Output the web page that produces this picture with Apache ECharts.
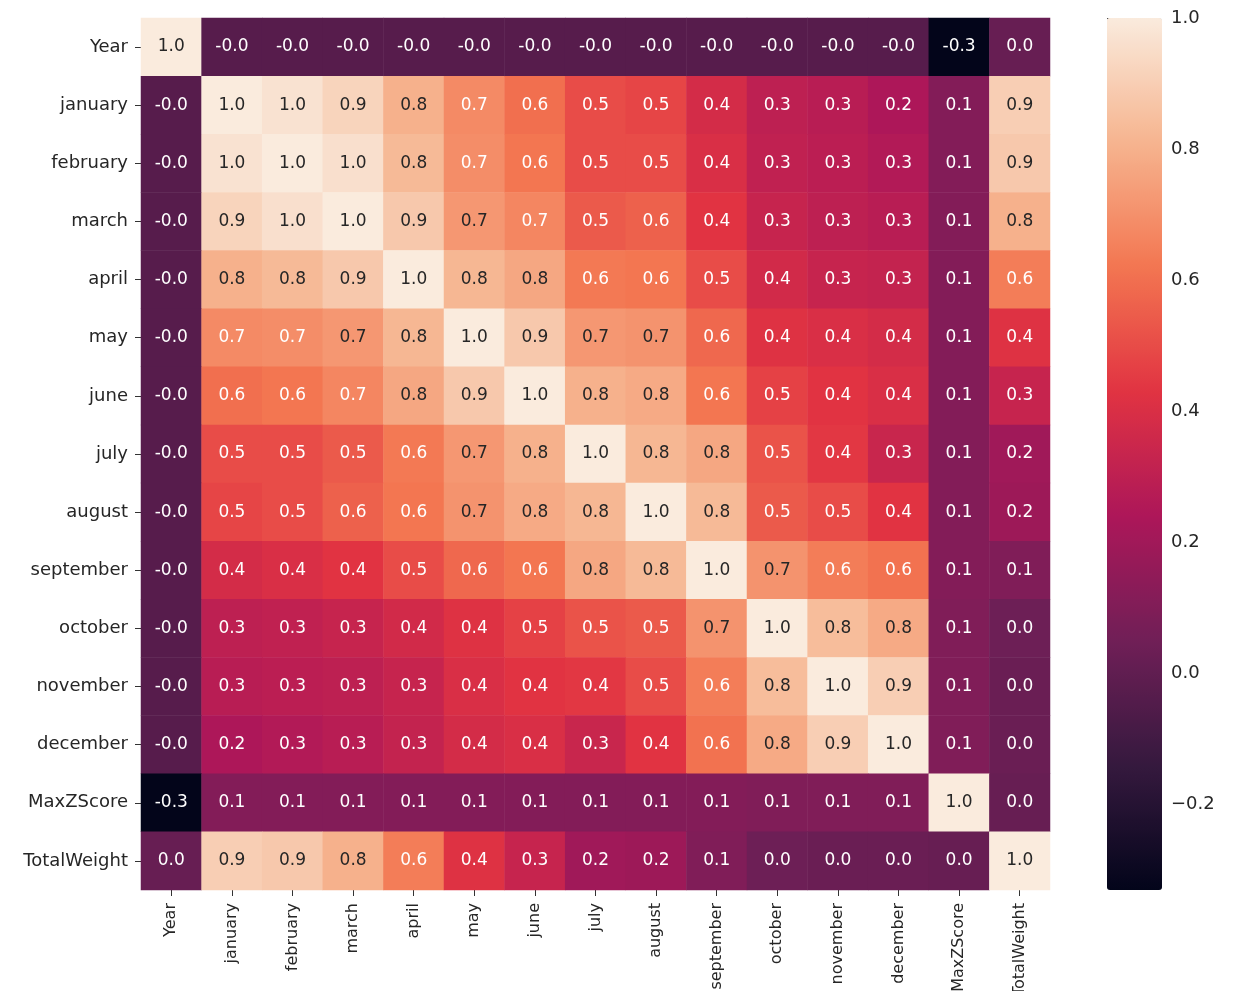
<!DOCTYPE html>
<html>
<head>
<meta charset="utf-8">
<script src="https://cdn.jsdelivr.net/npm/echarts@6/dist/echarts.min.js"></script>
<style>
html,body{margin:0;padding:0;background:#fff;}
#chart{width:1233px;height:991px;}
</style>
</head>
<body>
<div id="chart"></div>
<script>
const labels = ['Year','january','february','march','april','may','june','july','august','september','october','november','december','MaxZScore','TotalWeight'];

const yearRow        = [ 1.00,-0.03,-0.03,-0.03,-0.03,-0.03,-0.03,-0.03,-0.03,-0.03,-0.03,-0.03,-0.03,-0.33, 0.02];
const januaryRow     = [-0.03, 1.00, 0.97, 0.92, 0.80, 0.68, 0.60, 0.50, 0.48, 0.38, 0.30, 0.28, 0.24, 0.11, 0.90];
const februaryRow    = [-0.03, 0.97, 1.00, 0.96, 0.83, 0.69, 0.62, 0.50, 0.50, 0.40, 0.31, 0.29, 0.26, 0.11, 0.88];
const marchRow       = [-0.03, 0.92, 0.96, 1.00, 0.88, 0.72, 0.67, 0.54, 0.56, 0.43, 0.33, 0.30, 0.28, 0.11, 0.80];
const aprilRow       = [-0.03, 0.80, 0.83, 0.88, 1.00, 0.82, 0.77, 0.63, 0.62, 0.50, 0.37, 0.33, 0.32, 0.11, 0.64];
const mayRow         = [-0.03, 0.68, 0.69, 0.72, 0.82, 1.00, 0.88, 0.72, 0.71, 0.58, 0.42, 0.40, 0.38, 0.11, 0.42];
const juneRow        = [-0.03, 0.60, 0.62, 0.67, 0.77, 0.88, 1.00, 0.80, 0.78, 0.62, 0.47, 0.43, 0.40, 0.11, 0.33];
const julyRow        = [-0.03, 0.50, 0.50, 0.54, 0.63, 0.72, 0.80, 1.00, 0.82, 0.77, 0.52, 0.44, 0.34, 0.11, 0.20];
const augustRow      = [-0.03, 0.48, 0.50, 0.56, 0.62, 0.71, 0.78, 0.82, 1.00, 0.83, 0.54, 0.50, 0.43, 0.11, 0.19];
const septemberRow   = [-0.03, 0.38, 0.40, 0.43, 0.50, 0.58, 0.62, 0.77, 0.83, 1.00, 0.71, 0.64, 0.61, 0.11, 0.10];
const octoberRow     = [-0.03, 0.30, 0.31, 0.33, 0.37, 0.42, 0.47, 0.52, 0.54, 0.71, 1.00, 0.84, 0.78, 0.10, 0.04];
const novemberRow    = [-0.03, 0.28, 0.29, 0.30, 0.33, 0.40, 0.43, 0.44, 0.50, 0.64, 0.84, 1.00, 0.90, 0.10, 0.03];
const decemberRow    = [-0.03, 0.24, 0.26, 0.28, 0.32, 0.38, 0.40, 0.34, 0.43, 0.61, 0.78, 0.90, 1.00, 0.10, 0.03];
const maxZScoreRow   = [-0.33, 0.11, 0.11, 0.11, 0.11, 0.11, 0.11, 0.11, 0.11, 0.11, 0.10, 0.10, 0.10, 1.00, 0.02];
const totalWeightRow = [ 0.02, 0.90, 0.88, 0.80, 0.64, 0.42, 0.33, 0.20, 0.19, 0.10, 0.04, 0.03, 0.03, 0.02, 1.00];

const colorbarTicks = [-0.2, 0.0, 0.2, 0.4, 0.6, 0.8, 1.0];

const matrix = [yearRow, januaryRow, februaryRow, marchRow, aprilRow, mayRow, juneRow, julyRow,
  augustRow, septemberRow, octoberRow, novemberRow, decemberRow, maxZScoreRow, totalWeightRow];

const rocket = ['#03051A','#35193E','#701F57','#AD1759','#E13342','#F37651','#F6B48F','#FAEBDD'];

let vmin = Infinity, vmax = -Infinity;
const data = [];
matrix.forEach((row, i) => {
  row.forEach((v, j) => {
    vmin = Math.min(vmin, v); vmax = Math.max(vmax, v);
    data.push({ value: [j, i, v], label: { color: v >= 0.70 ? '#262626' : '#ffffff' } });
  });
});

const FONT = 'DejaVu Sans';
const GL = 141, GT = 18, GW = 909, GH = 872;
const CBL = 1107, CBW = 55;
const LABEL_SIZE = 18, XLABEL_SIZE = 16, ANNOT_SIZE = 17;

const chart = echarts.init(document.getElementById('chart'));
chart.setOption({
  animation: false,
  backgroundColor: '#ffffff',
  textStyle: { fontFamily: FONT },
  grid: [
    { left: GL, top: GT, width: GW, height: GH, containLabel: false, outerBoundsMode: 'none' },
    { left: CBL, top: GT, width: CBW, height: GH, containLabel: false, outerBoundsMode: 'none' }
  ],
  xAxis: [
    {
      type: 'category', data: labels, gridIndex: 0, position: 'bottom',
      axisLine: { show: false },
      axisTick: { show: true, alignWithLabel: true, length: 6, lineStyle: { color: '#333' } },
      axisLabel: { rotate: 90, interval: 0, margin: 13, color: '#262626', fontSize: XLABEL_SIZE, fontFamily: FONT },
      splitLine: { show: false }, splitArea: { show: false }
    },
    { type: 'value', gridIndex: 1, show: false, min: 0, max: 1 }
  ],
  yAxis: [
    {
      type: 'category', data: labels, gridIndex: 0, inverse: true,
      axisLine: { show: false },
      axisTick: { show: true, alignWithLabel: true, length: 6, lineStyle: { color: '#333' } },
      axisLabel: { interval: 0, margin: 13, color: '#262626', fontSize: LABEL_SIZE, fontFamily: FONT },
      splitLine: { show: false }, splitArea: { show: false }
    },
    {
      type: 'value', gridIndex: 1, position: 'right', min: vmin, max: vmax,
      axisLine: { show: false },
      splitLine: { show: false },
      axisTick: { show: true, length: 6, customValues: colorbarTicks, lineStyle: { color: '#333' } },
      axisLabel: {
        customValues: colorbarTicks, margin: 9, color: '#262626', fontSize: LABEL_SIZE, fontFamily: FONT,
        formatter: v => (v < -1e-9 ? '\u2212' : '') + Math.abs(v).toFixed(1)
      }
    }
  ],
  visualMap: {
    type: 'continuous', min: vmin, max: vmax, calculable: false, show: true,
    seriesIndex: 0, orient: 'vertical', left: CBL, top: GT, itemWidth: CBW, itemHeight: GH,
    padding: 0, text: null, showLabel: false, hoverLink: false,
    inRange: { color: rocket }
  },
  series: [{
    type: 'heatmap', xAxisIndex: 0, yAxisIndex: 0, data: data,
    label: { show: true, fontSize: ANNOT_SIZE, fontFamily: FONT, formatter: p => p.value[2].toFixed(1) },
    emphasis: { disabled: true },
    itemStyle: { borderWidth: 0 }
  }]
});
</script>
</body>
</html>
